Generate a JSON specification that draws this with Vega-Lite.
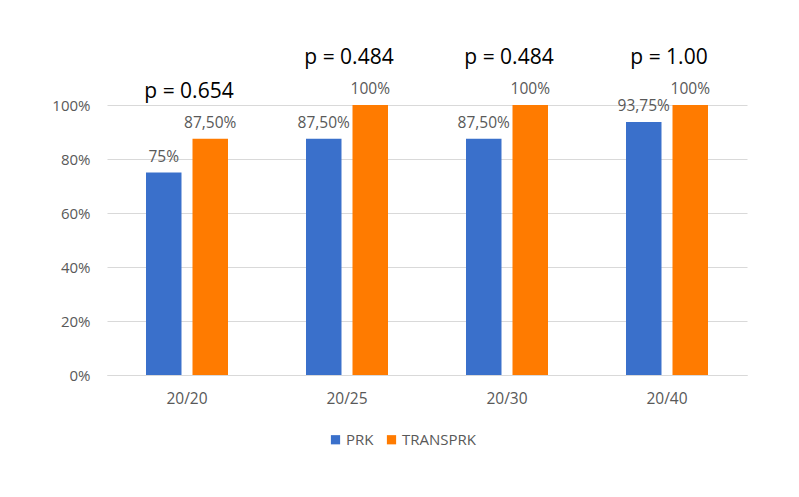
{
  "$schema": "https://vega.github.io/schema/vega-lite/v6.json",
  "width": 640,
  "height": 270,
  "autosize": "none",
  "padding": {"left": 107, "top": 105, "right": 52, "bottom": 122},
  "background": "white",
  "config": {"view": {"stroke": null}, "font": "Open Sans"},
  "datasets": {
    "bars": [
      {"acuity": "20/20", "group": "PRK", "value": 0.75, "label": "75%"},
      {"acuity": "20/20", "group": "TRANSPRK", "value": 0.875, "label": "87,50%"},
      {"acuity": "20/25", "group": "PRK", "value": 0.875, "label": "87,50%"},
      {"acuity": "20/25", "group": "TRANSPRK", "value": 1.0, "label": "100%"},
      {"acuity": "20/30", "group": "PRK", "value": 0.875, "label": "87,50%"},
      {"acuity": "20/30", "group": "TRANSPRK", "value": 1.0, "label": "100%"},
      {"acuity": "20/40", "group": "PRK", "value": 0.9375, "label": "93,75%"},
      {"acuity": "20/40", "group": "TRANSPRK", "value": 1.0, "label": "100%"}
    ],
    "pvals": [
      {"acuity": "20/20", "p": "p = 0.654"},
      {"acuity": "20/25", "p": "p = 0.484"},
      {"acuity": "20/30", "p": "p = 0.484"},
      {"acuity": "20/40", "p": "p = 1.00"}
    ]
  },
  "layer": [
    {
      "data": {"name": "bars"},
      "mark": {"type": "bar"},
      "encoding": {
        "x": {
          "field": "acuity", "type": "nominal", "title": null,
          "scale": {"paddingInner": 0.4875, "paddingOuter": 0.24375},
          "axis": {"labelAngle": 0, "labelFontSize": 15.5, "labelColor": "#595959", "domainColor": "#d9d9d9", "ticks": false, "labelPadding": 16}
        },
        "xOffset": {"field": "group", "type": "nominal", "sort": ["PRK", "TRANSPRK"], "scale": {"paddingInner": 0.2366}},
        "y": {
          "field": "value", "type": "quantitative", "title": null,
          "scale": {"domain": [0, 1]},
          "axis": {"values": [0, 0.2, 0.4, 0.6, 0.8, 1], "format": ".0%", "labelFontSize": 15, "labelColor": "#595959", "domain": false, "ticks": false, "gridColor": "#d9d9d9", "labelPadding": 17}
        },
        "color": {
          "field": "group", "type": "nominal",
          "scale": {"domain": ["PRK", "TRANSPRK"], "range": ["#3a70cb", "#ff7b00"]},
          "legend": {"title": null, "orient": "none", "direction": "horizontal", "legendX": 221, "legendY": 327, "symbolType": "square", "symbolSize": 85, "labelFontSize": 15, "labelColor": "#595959", "columnPadding": 10, "labelOffset": 3}
        }
      }
    },
    {
      "data": {"name": "bars"},
      "mark": {"type": "text", "baseline": "bottom", "dy": -8, "fontSize": 15.5, "color": "#595959"},
      "encoding": {
        "x": {"field": "acuity", "type": "nominal"},
        "xOffset": {"field": "group", "type": "nominal", "sort": ["PRK", "TRANSPRK"]},
        "y": {"field": "value", "type": "quantitative"},
        "text": {"field": "label"}
      }
    },
    {
      "data": {"name": "bars"},
      "transform": [
        {"aggregate": [{"op": "max", "field": "value", "as": "top"}], "groupby": ["acuity"]},
        {"lookup": "acuity", "from": {"data": {"name": "pvals"}, "key": "acuity", "fields": ["p"]}}
      ],
      "mark": {"type": "text", "baseline": "bottom", "dy": -37, "dx": 2, "fontSize": 21, "color": "#000000"},
      "encoding": {
        "x": {"field": "acuity", "type": "nominal"},
        "y": {"field": "top", "type": "quantitative"},
        "text": {"field": "p"}
      }
    }
  ]
}
